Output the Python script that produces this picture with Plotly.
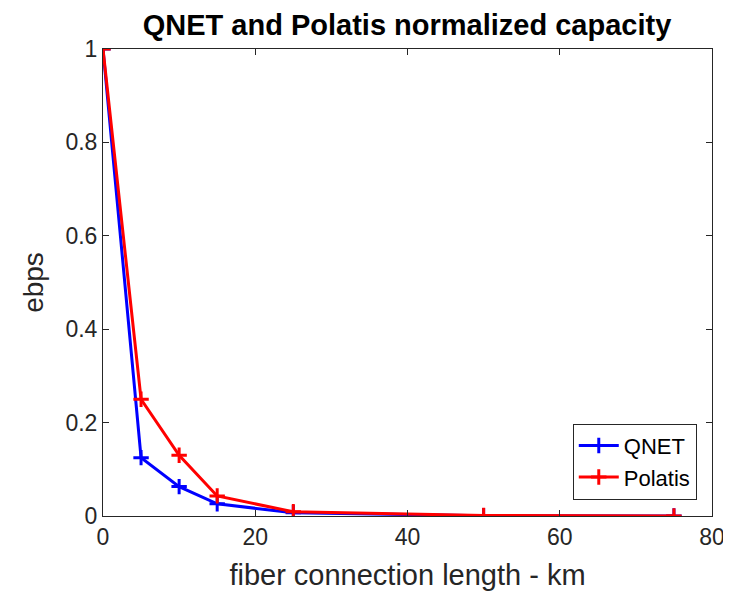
import plotly.graph_objects as go

length_km = [0, 5, 10, 15, 25, 50, 75]
qnet = [1.0, 0.125, 0.063, 0.026, 0.007, 0.0005, 0.0001]
polatis = [1.0, 0.25, 0.13, 0.043, 0.009, 0.001, 0.0002]

FONT = "Liberation Sans, Arial, Helvetica"

fig = go.Figure()
fig.add_trace(go.Scatter(x=length_km, y=qnet, name="QNET", mode="lines+markers",
                         line=dict(color="#0000ff", width=3),
                         marker=dict(symbol="cross-thin", size=11, line=dict(color="#0000ff", width=3))))
fig.add_trace(go.Scatter(x=length_km, y=polatis, name="Polatis", mode="lines+markers",
                         line=dict(color="#ff0000", width=3),
                         marker=dict(symbol="cross-thin", size=11, line=dict(color="#ff0000", width=3))))

axis_common = dict(showgrid=False, zeroline=False, showline=True, mirror="ticks",
                   linecolor="#262626", linewidth=1, ticks="inside", ticklen=6,
                   tickcolor="#262626", tickfont=dict(family=FONT, size=23, color="#262626"))
fig.update_xaxes(range=[0, 80], dtick=20, title=dict(text="fiber connection length - km",
                 font=dict(family=FONT, size=29, color="#262626"), standoff=16), **axis_common)
fig.update_yaxes(range=[0, 1], dtick=0.2, tickformat="~g", title=dict(text="ebps",
                 font=dict(family=FONT, size=28, color="#262626"), standoff=13), **axis_common)

fig.update_layout(
    width=723, height=586,
    margin=dict(l=95, r=19, t=41, b=78, autoexpand=False),
    paper_bgcolor="white", plot_bgcolor="white",
    title=dict(text="<b>QNET and Polatis normalized capacity</b>", x=(407 - 8) / 723, xanchor="center",
               y=1 - (25 - 8) / 586, yanchor="middle", font=dict(family=FONT, size=29, color="black")),
    legend=dict(x=0.975, y=0.035, xanchor="right", yanchor="bottom", bgcolor="white",
                bordercolor="#262626", borderwidth=1,
                font=dict(family=FONT, size=22, color="black"),
                tracegroupgap=0, itemwidth=40),
    showlegend=True,
)
fig.write_html("out.html")
